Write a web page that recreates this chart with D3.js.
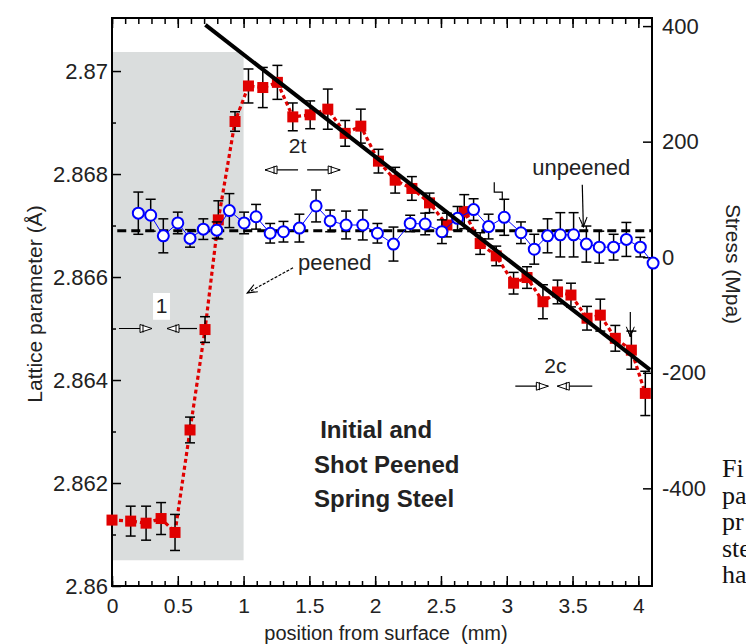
<!DOCTYPE html>
<html>
<head>
<meta charset="utf-8">
<script src="https://cdn.jsdelivr.net/npm/d3@7"></script>
<style>
body { margin: 0; background: #fff; }
svg { display: block; font-family: "Liberation Sans", Arial, sans-serif; }
</style>
</head>
<body>
<script>
// peened (red squares): position (mm), lattice parameter (A), error
var redX = [0.00, 0.142, 0.259, 0.373, 0.479, 0.593, 0.707, 0.808, 0.935, 1.037,
            1.146, 1.257, 1.374, 1.506, 1.640, 1.772, 1.891, 2.025, 2.152, 2.279,
            2.413, 2.545, 2.677, 2.798, 2.920, 3.052, 3.154, 3.275, 3.386, 3.488,
            3.610, 3.711, 3.825, 3.947, 4.053];
var redLat = [2.86128, 2.86126, 2.86122, 2.86131, 2.86104, 2.86303, 2.86498, 2.86711, 2.86902, 2.86971,
              2.86968, 2.86978, 2.86911, 2.86915, 2.86926, 2.86879, 2.86893, 2.86825, 2.86788, 2.86772,
              2.86744, 2.86701, 2.86727, 2.86665, 2.86641, 2.86588, 2.86599, 2.86552, 2.86571, 2.86565,
              2.86520, 2.86526, 2.86481, 2.86458, 2.86374];
var redErr = [0, 0.00029, 0.00033, 0.00031, 0.00035, 0.00025, 0.00025, 0.00037, 0.00019, 0.00033,
              0.00039, 0.00033, 0.00027, 0.00027, 0.00039, 0.00025, 0.00033, 0.00023, 0.00025, 0.00023,
              0.00019, 0.00023, 0.00033, 0.00021, 0.00019, 0.00021, 0.00021, 0.00033, 0.00023, 0.00023,
              0.00023, 0.00031, 0.00025, 0.00037, 0.00043];

// unpeened (blue circles)
var blueX = [0.200, 0.294, 0.390, 0.500, 0.593, 0.694, 0.796, 0.892, 1.004, 1.095,
             1.202, 1.303, 1.424, 1.551, 1.658, 1.779, 1.906, 2.017, 2.139, 2.266,
             2.380, 2.507, 2.626, 2.748, 2.862, 2.981, 3.108, 3.209, 3.310, 3.407,
             3.508, 3.605, 3.703, 3.812, 3.909, 4.015, 4.112];
var blueLat = [2.86724, 2.86720, 2.86680, 2.86705, 2.86675, 2.86693, 2.86691, 2.86729, 2.86705, 2.86717,
               2.86685, 2.86688, 2.86695, 2.86738, 2.86709, 2.86701, 2.86701, 2.86685, 2.86664, 2.86704,
               2.86703, 2.86688, 2.86714, 2.86731, 2.86698, 2.86716, 2.86686, 2.86654, 2.86680, 2.86682,
               2.86682, 2.86664, 2.86658, 2.86658, 2.86673, 2.86658, 2.86627];
var blueErr = [0.00041, 0.00031, 0.00033, 0.00021, 0.00017, 0.00020, 0.00016, 0.00033, 0.00021, 0.00024,
               0.00019, 0.00020, 0.00027, 0.00031, 0.00021, 0.00027, 0.00029, 0.00019, 0.00033, 0.00016,
               0.00021, 0.00023, 0.00023, 0.00021, 0.00024, 0.00035, 0.00021, 0.00029, 0.00033, 0.00043,
               0.00043, 0.00035, 0.00031, 0.00025, 0.00033, 0.00019, 0];

// linear stress fit (MPa) and unpeened mean lattice
var fitX = [0.71, 4.09];
var fitStress = [402, -195];
var meanX = [0.04, 4.1];
var meanLat = [2.8669, 2.8669];

// shot-peened layer
var zoneX = [0, 1];
var zoneLat = [2.8605, 2.87037];

var xMajor = [0, 0.5, 1, 1.5, 2, 2.5, 3, 3.5, 4];
var xMinor = d3.range(0, 41).map(function(i) { return i / 10; });
var latTicks = [2.86, 2.862, 2.864, 2.866, 2.868, 2.87];
var latMinor = [2.861, 2.863, 2.865, 2.867, 2.869];
var stressTicks = [-400, -200, 0, 200, 400];

var width = 746, height = 644;
var x = d3.scaleLinear().domain([0, 4.1]).range([112, 651.5]);
var yL = d3.scaleLinear().domain([2.86, 2.87103]).range([586, 18]);
var yS = d3.scaleLinear().domain([-569, 414]).range([586, 18]);

var svg = d3.select("body").append("svg")
    .attr("width", width)
    .attr("height", height);

var ink = "#222";

// grey zone
svg.append("rect")
    .attr("x", x(zoneX[0]))
    .attr("y", yL(zoneLat[1]))
    .attr("width", x(zoneX[1]) - x(zoneX[0]))
    .attr("height", yL(zoneLat[0]) - yL(zoneLat[1]))
    .attr("fill", "#dadddd");

// axes
function styleAxis(g, size) {
    g.select(".domain").remove();
    g.selectAll("line").attr("stroke", "#000").attr("stroke-width", 1.5);
    g.selectAll("text").attr("font-size", size).attr("fill", ink)
        .attr("font-family", "Liberation Sans, Arial, sans-serif");
}

svg.append("g").attr("transform", "translate(0,586)")
    .call(d3.axisBottom(x).tickValues(xMinor).tickSize(-5).tickFormat(""))
    .call(styleAxis, 21);
svg.append("g").attr("transform", "translate(0,586)")
    .call(d3.axisBottom(x).tickValues(xMajor).tickSize(-10).tickPadding(12).tickFormat(function(d) { return String(d); }))
    .call(styleAxis, 21);
svg.append("g").attr("transform", "translate(0,18)")
    .call(d3.axisTop(x).tickValues(xMinor).tickSize(-6).tickFormat(""))
    .call(styleAxis, 21);
svg.append("g").attr("transform", "translate(0,18)")
    .call(d3.axisTop(x).tickValues(xMajor).tickSize(-10).tickFormat(""))
    .call(styleAxis, 21);

svg.append("g").attr("transform", "translate(112,0)")
    .call(d3.axisLeft(yL).tickValues(latMinor).tickSize(-4).tickFormat(""))
    .call(styleAxis, 22);
svg.append("g").attr("transform", "translate(112,0)")
    .call(d3.axisLeft(yL).tickValues(latTicks).tickSize(-9).tickPadding(4).tickFormat(function(d) { return String(d); }))
    .call(styleAxis, 22);

svg.append("g").attr("transform", "translate(652,0)")
    .call(d3.axisRight(yS).tickValues(stressTicks).tickSize(-9).tickPadding(10).tickFormat(function(d) { return String(d); }))
    .call(styleAxis, 22);

// frame
svg.append("rect")
    .attr("x", 112).attr("y", 18)
    .attr("width", 540).attr("height", 568)
    .attr("fill", "none").attr("stroke", "#000").attr("stroke-width", 2);

// axis titles
svg.append("text")
    .attr("transform", "translate(42,304) rotate(-90)")
    .attr("text-anchor", "middle")
    .attr("font-size", 21).attr("fill", ink)
    .text("Lattice parameter (Å)");
svg.append("text")
    .attr("transform", "translate(726,264) rotate(90)")
    .attr("text-anchor", "middle")
    .attr("font-size", 21).attr("fill", ink)
    .text("Stress (Mpa)");
svg.append("text")
    .attr("x", 386).attr("y", 640)
    .attr("text-anchor", "middle")
    .attr("font-size", 20).attr("fill", ink)
    .attr("xml:space", "preserve")
    .text("position from surface  (mm)");

// mean lattice (dashed)
svg.append("path")
    .datum(d3.zip(meanX, meanLat))
    .attr("d", d3.line().x(function(d) { return x(d[0]); }).y(function(d) { return yL(d[1]); }))
    .attr("stroke", "#000").attr("stroke-width", 3)
    .attr("stroke-dasharray", "9,5").attr("fill", "none");

var red = d3.zip(redX, redLat, redErr);
var blue = d3.zip(blueX, blueLat, blueErr);

var line = d3.line().x(function(d) { return x(d[0]); }).y(function(d) { return yL(d[1]); });

// red curve
svg.append("path").datum(red)
    .attr("d", line)
    .attr("fill", "none").attr("stroke", "#e00000")
    .attr("stroke-width", 3.2).attr("stroke-dasharray", "4,3");

function errorBars(data) {
    var g = svg.append("g").attr("stroke", "#000").attr("stroke-width", 1.5);
    var d = data.filter(function(p) { return p[2] > 0; });
    g.selectAll(".v").data(d).enter().append("line")
        .attr("x1", function(p) { return x(p[0]); }).attr("x2", function(p) { return x(p[0]); })
        .attr("y1", function(p) { return yL(p[1] + p[2]); }).attr("y2", function(p) { return yL(p[1] - p[2]); });
    g.selectAll(".t").data(d).enter().append("line")
        .attr("x1", function(p) { return x(p[0]) - 5; }).attr("x2", function(p) { return x(p[0]) + 5; })
        .attr("y1", function(p) { return yL(p[1] + p[2]); }).attr("y2", function(p) { return yL(p[1] + p[2]); });
    g.selectAll(".b").data(d).enter().append("line")
        .attr("x1", function(p) { return x(p[0]) - 5; }).attr("x2", function(p) { return x(p[0]) + 5; })
        .attr("y1", function(p) { return yL(p[1] - p[2]); }).attr("y2", function(p) { return yL(p[1] - p[2]); });
}

errorBars(red);

svg.append("g").selectAll("rect").data(red).enter().append("rect")
    .attr("x", function(d) { return x(d[0]) - 5.5; })
    .attr("y", function(d) { return yL(d[1]) - 5.5; })
    .attr("width", 11).attr("height", 11)
    .attr("fill", "#e00000");

// blue curve
svg.append("path").datum(blue)
    .attr("d", line)
    .attr("fill", "none").attr("stroke", "#0000ff").attr("stroke-width", 1);

errorBars(blue);

svg.append("g").selectAll("circle").data(blue).enter().append("circle")
    .attr("cx", function(d) { return x(d[0]); })
    .attr("cy", function(d) { return yL(d[1]); })
    .attr("r", 5.5)
    .attr("fill", "#fff").attr("stroke", "#0000ff").attr("stroke-width", 2);

// stress fit
svg.append("path")
    .datum(d3.zip(fitX, fitStress))
    .attr("d", d3.line().x(function(d) { return x(d[0]); }).y(function(d) { return yS(d[1]); }))
    .attr("stroke", "#000").attr("stroke-width", 4).attr("fill", "none");

// annotations
var defs = svg.append("defs");
defs.append("marker").attr("id", "open")
    .attr("viewBox", "0 0 14 10").attr("refX", 13).attr("refY", 5)
    .attr("markerWidth", 14).attr("markerHeight", 10).attr("markerUnits", "userSpaceOnUse")
    .attr("orient", "auto")
    .append("path").attr("d", "M1,1 L13,5 L1,9 Z M4,1 L4,9")
    .attr("fill", "#fff").attr("stroke", "#000").attr("stroke-width", 1);
defs.append("marker").attr("id", "vee")
    .attr("viewBox", "0 0 12 10").attr("refX", 11).attr("refY", 5)
    .attr("markerWidth", 12).attr("markerHeight", 10).attr("markerUnits", "userSpaceOnUse")
    .attr("orient", "auto")
    .append("path").attr("d", "M1,1 L11,5 L1,9 M4,2.5 L11,5 L4,7.5")
    .attr("fill", "none").attr("stroke", "#000").attr("stroke-width", 1);

function arrow(x0, l0, x1, l1, mark, dash) {
    svg.append("line")
        .attr("x1", x(x0)).attr("y1", yL(l0))
        .attr("x2", x(x1)).attr("y2", yL(l1))
        .attr("stroke", "#000").attr("stroke-width", 1.2)
        .attr("stroke-dasharray", dash || null)
        .attr("marker-end", "url(#" + mark + ")");
}
function label(tx, xv, lv, size, anchor, weight) {
    svg.append("text")
        .attr("x", x(xv)).attr("y", yL(lv))
        .attr("text-anchor", anchor || "start")
        .attr("font-size", size).attr("font-weight", weight || "normal")
        .attr("fill", ink).text(tx);
}

// 2t
label("2t", 1.41, 2.8684, 21, "middle");
arrow(1.414, 2.86808, 1.163, 2.86808, "open");
arrow(1.483, 2.86808, 1.734, 2.86808, "open");

// 1
svg.append("rect")
    .attr("x", x(0.312)).attr("y", yL(2.86569))
    .attr("width", x(0.441) - x(0.312)).attr("height", yL(2.86517) - yL(2.86569))
    .attr("fill", "#fff");
label("1", 0.376, 2.8653, 21, "middle");
arrow(0.053, 2.8650, 0.304, 2.8650, "open");
arrow(0.646, 2.8650, 0.418, 2.8650, "open");

// 2c
label("2c", 3.369, 2.86413, 21, "middle");
arrow(3.065, 2.86388, 3.316, 2.86388, "open");
arrow(3.65, 2.86388, 3.384, 2.86388, "open");

// peened / unpeened
label("peened", 1.414, 2.86614, 22);
arrow(1.376, 2.86618, 1.027, 2.86569, "vee", "3,1.5");
label("unpeened", 3.194, 2.86798, 22);
arrow(3.574, 2.86779, 3.582, 2.86697, "vee");
arrow(3.939, 2.86532, 3.939, 2.86484, "vee");

// bracket mark
svg.append("path")
    .attr("d", d3.line()([[x(2.905), yL(2.86784)], [x(2.905), yL(2.86765)], [x(2.966), yL(2.86765)], [x(2.966), yL(2.86749)]]))
    .attr("fill", "none").attr("stroke", "#000").attr("stroke-width", 1.2);

// title block
label("Initial and", 1.582, 2.86288, 24, "start", "bold");
label("Shot Peened", 1.536, 2.8622, 24, "start", "bold");
label("Spring Steel", 1.536, 2.86153, 24, "start", "bold");

// caption fragment at right edge (cut off in the source too)
var caption = ["Fi", "pa", "pr", "ste", "ha"];
svg.append("g").selectAll("text").data(caption).enter().append("text")
    .attr("x", 722)
    .attr("y", function(d, i) { return 477 + i * 26.5; })
    .attr("font-family", "Liberation Serif, Times New Roman, serif")
    .attr("font-size", 26).attr("fill", "#111")
    .text(function(d) { return d; });
</script>
</body>
</html>
